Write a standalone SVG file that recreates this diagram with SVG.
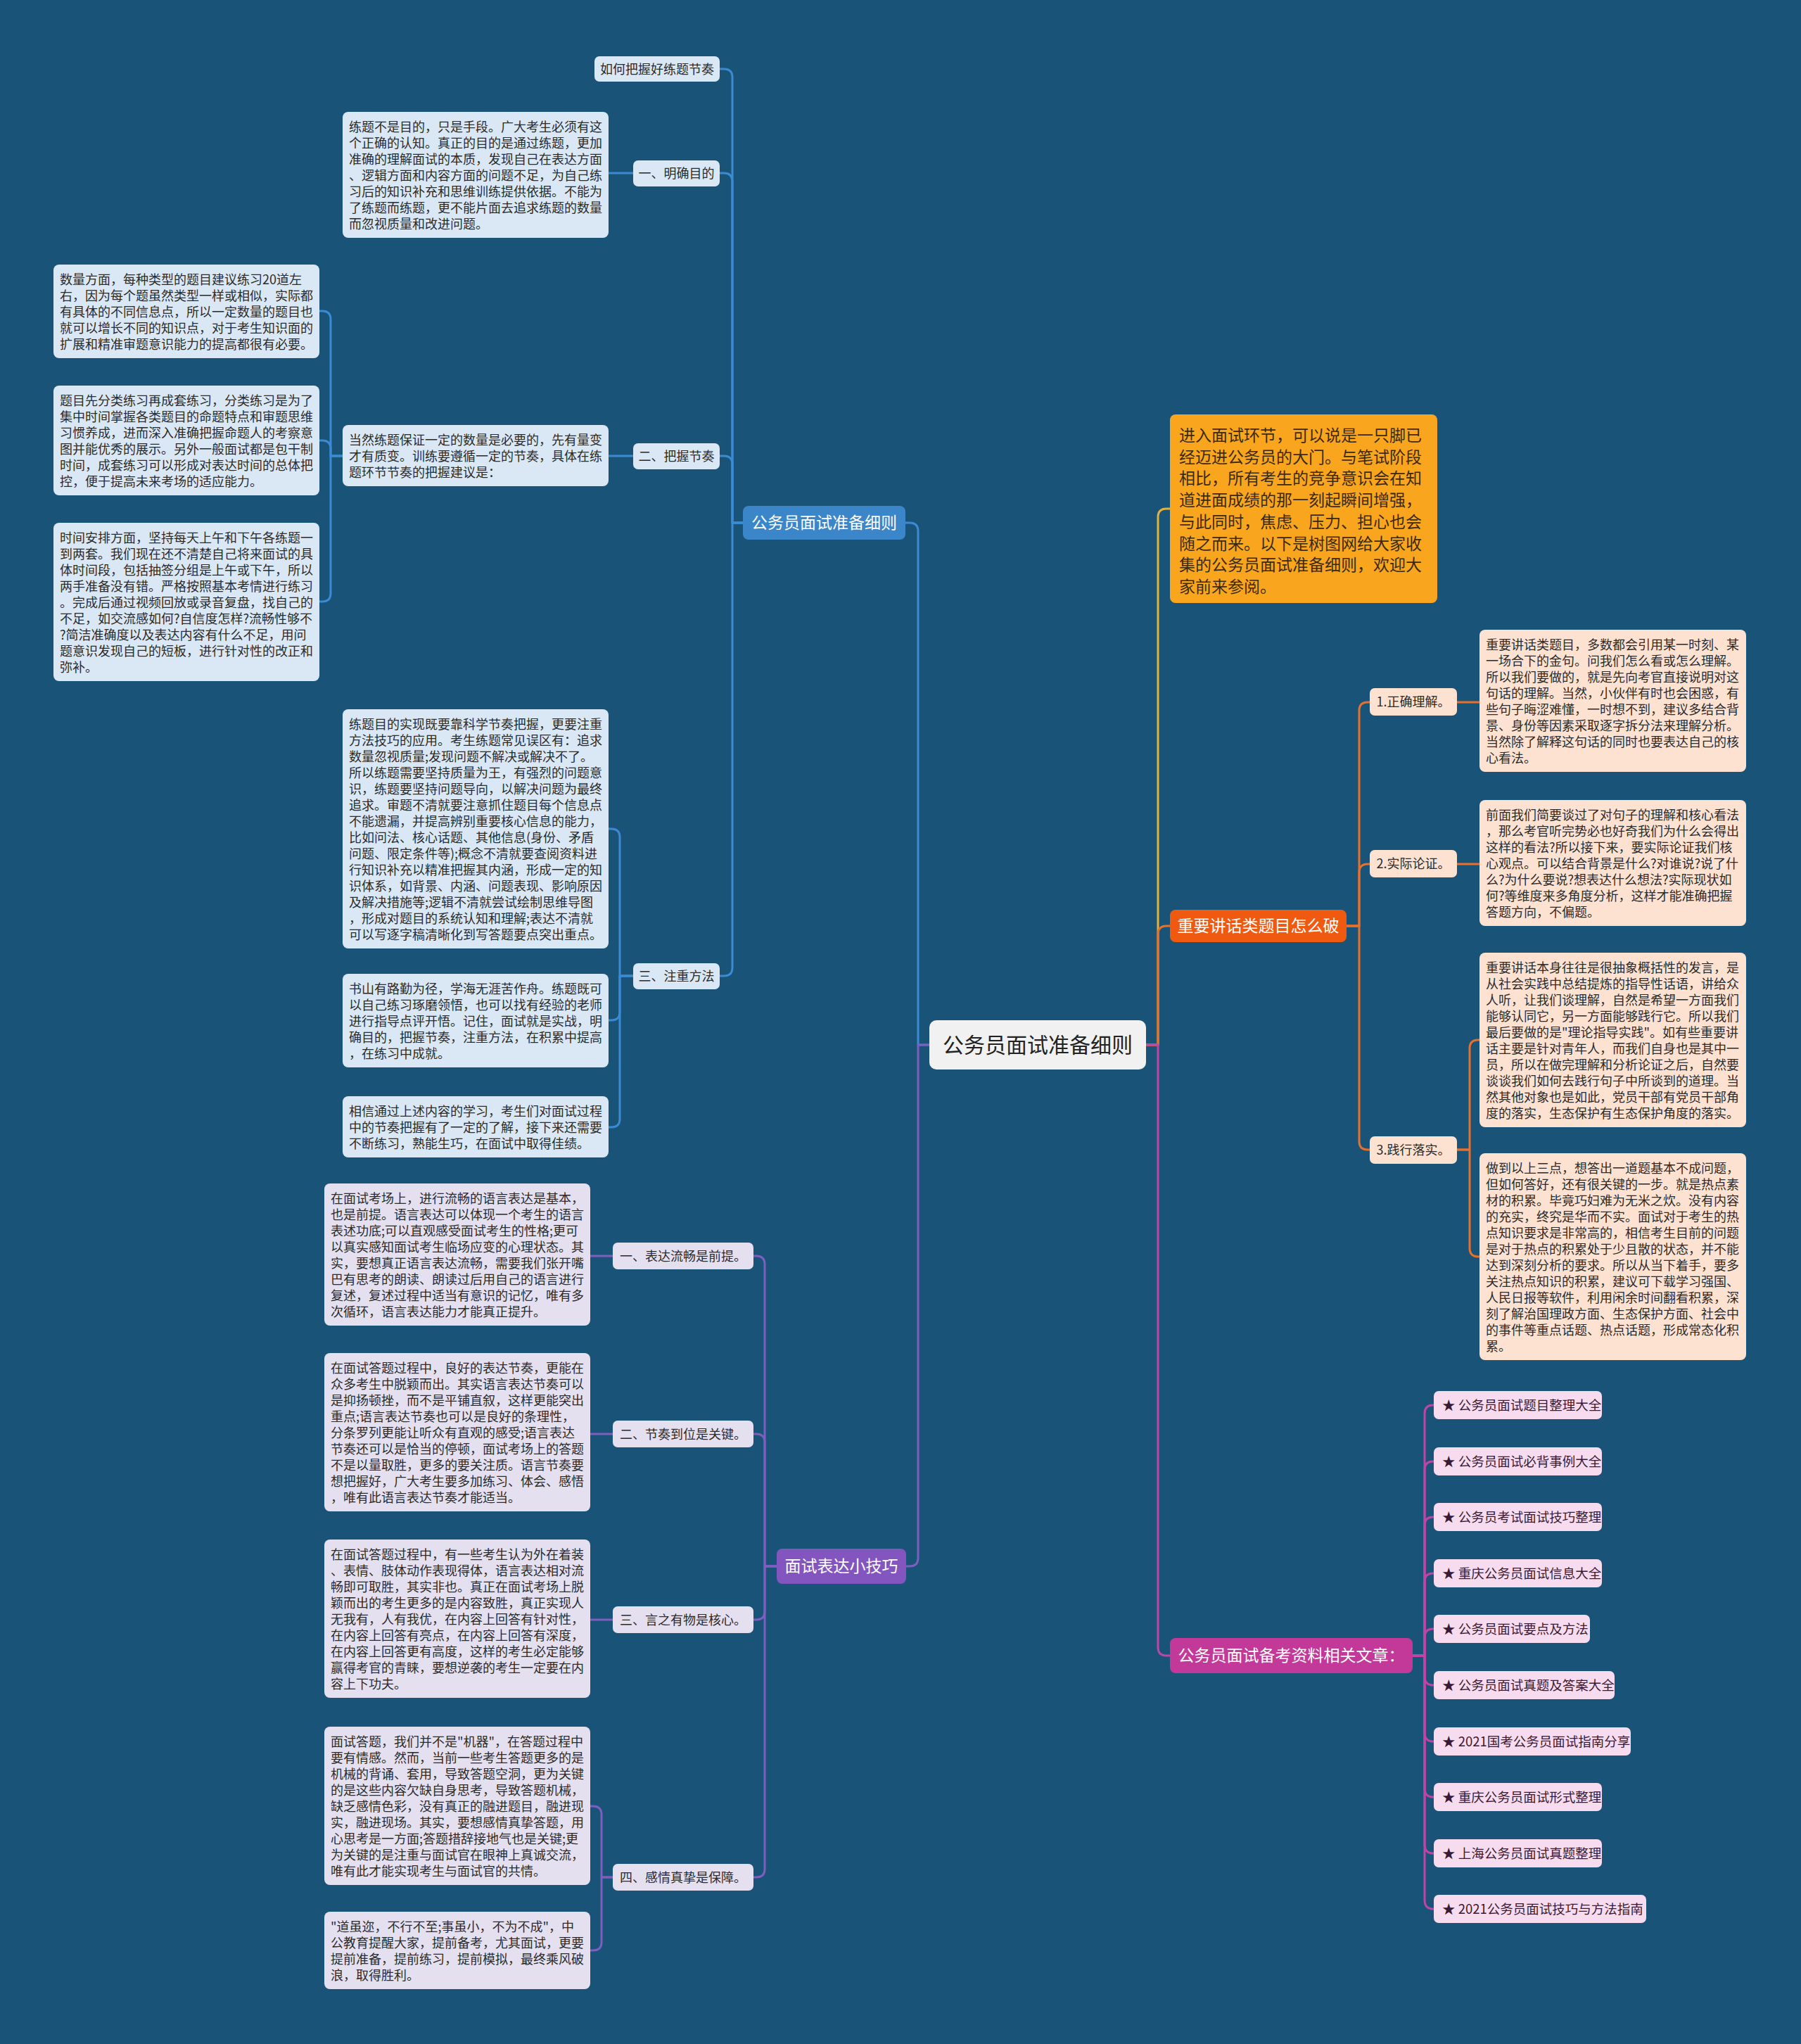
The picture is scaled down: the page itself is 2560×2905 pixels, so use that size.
<svg xmlns="http://www.w3.org/2000/svg" width="2560" height="2905" viewBox="0 0 2560 2905">
<style>
text{font-family:'Noto Sans CJK SC','Noto Sans CJK JP',sans-serif}
.tx{font-size:18px;fill:#2b2b2b}
.lbl{font-size:18px;fill:#2b2b2b;text-anchor:middle}
.art{font-size:18.5px;fill:#3a1a33}
.main{font-size:23px;fill:#ffffff;text-anchor:middle}
.lb{fill:#dae8f5}
.lp{fill:#e5e0f0}
.lo{fill:#fde2d2}
.lm{fill:#f7dcef}
#connectors path{fill:none;stroke-width:3;stroke-linejoin:round}
.cb{stroke:#3b8bd4}
.cp{stroke:#7e5fc0}
.cg{stroke:#e2b23e}
.co{stroke:#e8702a}
.cm{stroke:#c044a4}
</style>
<rect x="0" y="0" width="2560" height="2905" fill="#1a5378"/>

<g id="connectors">
  <!-- from center -->
  <path class="cb" d="M1321 1485 H1305 V755 Q1305 743 1293 743 H1287"/>
  <path class="cp" d="M1321 1485 H1305 V2214 Q1305 2226 1293 2226 H1288"/>
  <path class="cg" d="M1629 1485 H1646 V735 Q1646 723 1658 723 H1663"/>
  <path class="co" d="M1629 1485 H1646 V1328 Q1646 1316 1658 1316 H1663"/>
  <path class="cm" d="M1629 1485 H1646 V2341 Q1646 2353 1658 2353 H1663"/>
  <!-- blue branch -->
  <path class="cb" d="M1056 743 H1041 V110 Q1041 98 1029 98 H1023"/>
  <path class="cb" d="M1056 743 H1041 V258 Q1041 246 1029 246 H1023"/>
  <path class="cb" d="M1056 743 H1041 V660 Q1041 648 1029 648 H1023"/>
  <path class="cb" d="M1056 743 H1041 V1375 Q1041 1387 1029 1387 H1023"/>
  <path class="cb" d="M900 246 H865"/>
  <path class="cb" d="M900 648 H865"/>
  <path class="cb" d="M487 648 H470 V454 Q470 442 458 442 H454"/>
  <path class="cb" d="M487 648 H470 V638 Q470 626 458 626 H454"/>
  <path class="cb" d="M487 648 H470 V843 Q470 855 458 855 H454"/>
  <path class="cb" d="M900 1387 H881 V1190 Q881 1178 869 1178 H865"/>
  <path class="cb" d="M900 1387 H881 V1438 Q881 1450 869 1450 H865"/>
  <path class="cb" d="M900 1387 H881 V1590 Q881 1602 869 1602 H865"/>
  <!-- purple branch -->
  <path class="cp" d="M1104 2226 H1087 V1797 Q1087 1785 1075 1785 H1071"/>
  <path class="cp" d="M1104 2226 H1087 V2050 Q1087 2038 1075 2038 H1071"/>
  <path class="cp" d="M1104 2226 H1087 V2290 Q1087 2302 1075 2302 H1071"/>
  <path class="cp" d="M1104 2226 H1087 V2656 Q1087 2668 1075 2668 H1071"/>
  <path class="cp" d="M871 1785 H839"/>
  <path class="cp" d="M871 2038 H839"/>
  <path class="cp" d="M871 2302 H839"/>
  <path class="cp" d="M871 2668 H855 V2579 Q855 2567 843 2567 H839"/>
  <path class="cp" d="M871 2668 H855 V2760 Q855 2772 843 2772 H839"/>
  <!-- orange branch -->
  <path class="co" d="M1914 1316 H1932 V1010 Q1932 998 1944 998 H1947"/>
  <path class="co" d="M1914 1316 H1932 V1240 Q1932 1228 1944 1228 H1947"/>
  <path class="co" d="M1914 1316 H1932 V1622 Q1932 1634 1944 1634 H1947"/>
  <path class="co" d="M2071 998 H2103"/>
  <path class="co" d="M2071 1228 H2103"/>
  <path class="co" d="M2071 1634 H2089 V1490 Q2089 1478 2101 1478 H2103"/>
  <path class="co" d="M2071 1634 H2089 V1774 Q2089 1786 2101 1786 H2103"/>
  <!-- magenta branch -->
  <path class="cm" d="M2008 2353 H2025 V2009 Q2025 1997 2037 1997 H2038"/>
  <path class="cm" d="M2008 2353 H2025 V2089 Q2025 2077 2037 2077 H2038"/>
  <path class="cm" d="M2008 2353 H2025 V2168 Q2025 2156 2037 2156 H2038"/>
  <path class="cm" d="M2008 2353 H2025 V2248 Q2025 2236 2037 2236 H2038"/>
  <path class="cm" d="M2008 2353 H2025 V2327 Q2025 2315 2037 2315 H2038"/>
  <path class="cm" d="M2008 2353 H2025 V2383 Q2025 2395 2037 2395 H2038"/>
  <path class="cm" d="M2008 2353 H2025 V2463 Q2025 2475 2037 2475 H2038"/>
  <path class="cm" d="M2008 2353 H2025 V2542 Q2025 2554 2037 2554 H2038"/>
  <path class="cm" d="M2008 2353 H2025 V2622 Q2025 2634 2037 2634 H2038"/>
  <path class="cm" d="M2008 2353 H2025 V2701 Q2025 2713 2037 2713 H2038"/>
</g>

<g id="center">
  <rect x="1321" y="1450" width="308" height="70" rx="10" fill="#f1f1f1"/>
  <text x="1475" y="1496" font-size="30" fill="#222" text-anchor="middle">公务员面试准备细则</text>
</g>

<!-- Blue branch -->
<g id="n-prep">
  <rect x="1056" y="719" width="231" height="48" rx="8" fill="#3b86c9"/>
  <text class="main" x="1171.5" y="751">公务员面试准备细则</text>
</g>
<g id="n-howto">
  <rect class="lb" x="845" y="80" width="178" height="36" rx="7"/>
  <text class="lbl" x="934" y="104.5">如何把握好练题节奏</text>
</g>
<g id="n-goal">
  <rect class="lb" x="900" y="228" width="123" height="37" rx="7"/>
  <text class="lbl" x="961.5" y="253">一、明确目的</text>
</g>
<g id="n-goal-text">
  <rect class="lb" x="487" y="159" width="378" height="179" rx="8"/>
  <text class="tx" x="496" y="187"><tspan x="496">练题不是目的，只是手段。广大考生必须有这</tspan><tspan x="496" dy="23">个正确的认知。真正的目的是通过练题，更加</tspan><tspan x="496" dy="23">准确的理解面试的本质，发现自己在表达方面</tspan><tspan x="496" dy="23">、逻辑方面和内容方面的问题不足，为自己练</tspan><tspan x="496" dy="23">习后的知识补充和思维训练提供依据。不能为</tspan><tspan x="496" dy="23">了练题而练题，更不能片面去追求练题的数量</tspan><tspan x="496" dy="23">而忽视质量和改进问题。</tspan></text>
</g>
<g id="n-rhythm">
  <rect class="lb" x="900" y="630" width="123" height="37" rx="7"/>
  <text class="lbl" x="961.5" y="655">二、把握节奏</text>
</g>
<g id="n-rhythm-text">
  <rect class="lb" x="487" y="604" width="378" height="87" rx="8"/>
  <text class="tx" x="496" y="632"><tspan x="496">当然练题保证一定的数量是必要的，先有量变</tspan><tspan x="496" dy="23">才有质变。训练要遵循一定的节奏，具体在练</tspan><tspan x="496" dy="23">题环节节奏的把握建议是：</tspan></text>
</g>
<g id="n-quantity">
  <rect class="lb" x="76" y="376" width="378" height="133" rx="8"/>
  <text class="tx" x="85" y="404"><tspan x="85">数量方面，每种类型的题目建议练习20道左</tspan><tspan x="85" dy="23">右，因为每个题虽然类型一样或相似，实际都</tspan><tspan x="85" dy="23">有具体的不同信息点，所以一定数量的题目也</tspan><tspan x="85" dy="23">就可以增长不同的知识点，对于考生知识面的</tspan><tspan x="85" dy="23">扩展和精准审题意识能力的提高都很有必要。</tspan></text>
</g>
<g id="n-classify">
  <rect class="lb" x="76" y="548" width="378" height="156" rx="8"/>
  <text class="tx" x="85" y="576"><tspan x="85">题目先分类练习再成套练习，分类练习是为了</tspan><tspan x="85" dy="23">集中时间掌握各类题目的命题特点和审题思维</tspan><tspan x="85" dy="23">习惯养成，进而深入准确把握命题人的考察意</tspan><tspan x="85" dy="23">图并能优秀的展示。另外一般面试都是包干制</tspan><tspan x="85" dy="23">时间，成套练习可以形成对表达时间的总体把</tspan><tspan x="85" dy="23">控，便于提高未来考场的适应能力。</tspan></text>
</g>
<g id="n-time">
  <rect class="lb" x="76" y="743" width="378" height="225" rx="8"/>
  <text class="tx" x="85" y="771"><tspan x="85">时间安排方面，坚持每天上午和下午各练题一</tspan><tspan x="85" dy="23">到两套。我们现在还不清楚自己将来面试的具</tspan><tspan x="85" dy="23">体时间段，包括抽签分组是上午或下午，所以</tspan><tspan x="85" dy="23">两手准备没有错。严格按照基本考情进行练习</tspan><tspan x="85" dy="23">。完成后通过视频回放或录音复盘，找自己的</tspan><tspan x="85" dy="23">不足，如交流感如何?自信度怎样?流畅性够不</tspan><tspan x="85" dy="23">?简洁准确度以及表达内容有什么不足，用问</tspan><tspan x="85" dy="23">题意识发现自己的短板，进行针对性的改正和</tspan><tspan x="85" dy="23">弥补。</tspan></text>
</g>
<g id="n-method">
  <rect class="lb" x="900" y="1369" width="123" height="37" rx="7"/>
  <text class="lbl" x="961.5" y="1394">三、注重方法</text>
</g>
<g id="n-method-text1">
  <rect class="lb" x="487" y="1008" width="378" height="340" rx="8"/>
  <text class="tx" x="496" y="1036"><tspan x="496">练题目的实现既要靠科学节奏把握，更要注重</tspan><tspan x="496" dy="23">方法技巧的应用。考生练题常见误区有：追求</tspan><tspan x="496" dy="23">数量忽视质量;发现问题不解决或解决不了。</tspan><tspan x="496" dy="23">所以练题需要坚持质量为王，有强烈的问题意</tspan><tspan x="496" dy="23">识，练题要坚持问题导向，以解决问题为最终</tspan><tspan x="496" dy="23">追求。审题不清就要注意抓住题目每个信息点</tspan><tspan x="496" dy="23">不能遗漏，并提高辨别重要核心信息的能力，</tspan><tspan x="496" dy="23">比如问法、核心话题、其他信息(身份、矛盾</tspan><tspan x="496" dy="23">问题、限定条件等);概念不清就要查阅资料进</tspan><tspan x="496" dy="23">行知识补充以精准把握其内涵，形成一定的知</tspan><tspan x="496" dy="23">识体系，如背景、内涵、问题表现、影响原因</tspan><tspan x="496" dy="23">及解决措施等;逻辑不清就尝试绘制思维导图</tspan><tspan x="496" dy="23">，形成对题目的系统认知和理解;表达不清就</tspan><tspan x="496" dy="23">可以写逐字稿清晰化到写答题要点突出重点。</tspan></text>
</g>
<g id="n-method-text2">
  <rect class="lb" x="487" y="1384" width="378" height="133" rx="8"/>
  <text class="tx" x="496" y="1412"><tspan x="496">书山有路勤为径，学海无涯苦作舟。练题既可</tspan><tspan x="496" dy="23">以自己练习琢磨领悟，也可以找有经验的老师</tspan><tspan x="496" dy="23">进行指导点评开悟。记住，面试就是实战，明</tspan><tspan x="496" dy="23">确目的，把握节奏，注重方法，在积累中提高</tspan><tspan x="496" dy="23">，在练习中成就。</tspan></text>
</g>
<g id="n-method-text3">
  <rect class="lb" x="487" y="1558" width="378" height="87" rx="8"/>
  <text class="tx" x="496" y="1586"><tspan x="496">相信通过上述内容的学习，考生们对面试过程</tspan><tspan x="496" dy="23">中的节奏把握有了一定的了解，接下来还需要</tspan><tspan x="496" dy="23">不断练习，熟能生巧，在面试中取得佳绩。</tspan></text>
</g>

<!-- Purple branch -->
<g id="n-skills">
  <rect x="1104" y="2201" width="184" height="50" rx="8" fill="#8355bf"/>
  <text class="main" x="1196" y="2234">面试表达小技巧</text>
</g>
<g id="n-s1">
  <rect class="lp" x="871" y="1766" width="200" height="38" rx="7"/>
  <text class="lbl" x="971" y="1791.5">一、表达流畅是前提。</text>
</g>
<g id="n-s1-text">
  <rect class="lp" x="461" y="1682" width="378" height="202" rx="8"/>
  <text class="tx" x="470" y="1710"><tspan x="470">在面试考场上，进行流畅的语言表达是基本，</tspan><tspan x="470" dy="23">也是前提。语言表达可以体现一个考生的语言</tspan><tspan x="470" dy="23">表述功底;可以直观感受面试考生的性格;更可</tspan><tspan x="470" dy="23">以真实感知面试考生临场应变的心理状态。其</tspan><tspan x="470" dy="23">实，要想真正语言表达流畅，需要我们张开嘴</tspan><tspan x="470" dy="23">巴有思考的朗读、朗读过后用自己的语言进行</tspan><tspan x="470" dy="23">复述，复述过程中适当有意识的记忆，唯有多</tspan><tspan x="470" dy="23">次循环，语言表达能力才能真正提升。</tspan></text>
</g>
<g id="n-s2">
  <rect class="lp" x="871" y="2019" width="200" height="38" rx="7"/>
  <text class="lbl" x="971" y="2044.5">二、节奏到位是关键。</text>
</g>
<g id="n-s2-text">
  <rect class="lp" x="461" y="1923" width="378" height="225" rx="8"/>
  <text class="tx" x="470" y="1951"><tspan x="470">在面试答题过程中，良好的表达节奏，更能在</tspan><tspan x="470" dy="23">众多考生中脱颖而出。其实语言表达节奏可以</tspan><tspan x="470" dy="23">是抑扬顿挫，而不是平铺直叙，这样更能突出</tspan><tspan x="470" dy="23">重点;语言表达节奏也可以是良好的条理性，</tspan><tspan x="470" dy="23">分条罗列更能让听众有直观的感受;语言表达</tspan><tspan x="470" dy="23">节奏还可以是恰当的停顿，面试考场上的答题</tspan><tspan x="470" dy="23">不是以量取胜，更多的要关注质。语言节奏要</tspan><tspan x="470" dy="23">想把握好，广大考生要多加练习、体会、感悟</tspan><tspan x="470" dy="23">，唯有此语言表达节奏才能适当。</tspan></text>
</g>
<g id="n-s3">
  <rect class="lp" x="871" y="2283" width="200" height="38" rx="7"/>
  <text class="lbl" x="971" y="2308.5">三、言之有物是核心。</text>
</g>
<g id="n-s3-text">
  <rect class="lp" x="461" y="2188" width="378" height="225" rx="8"/>
  <text class="tx" x="470" y="2216"><tspan x="470">在面试答题过程中，有一些考生认为外在着装</tspan><tspan x="470" dy="23">、表情、肢体动作表现得体，语言表达相对流</tspan><tspan x="470" dy="23">畅即可取胜，其实非也。真正在面试考场上脱</tspan><tspan x="470" dy="23">颖而出的考生更多的是内容致胜，真正实现人</tspan><tspan x="470" dy="23">无我有，人有我优，在内容上回答有针对性，</tspan><tspan x="470" dy="23">在内容上回答有亮点，在内容上回答有深度，</tspan><tspan x="470" dy="23">在内容上回答更有高度，这样的考生必定能够</tspan><tspan x="470" dy="23">赢得考官的青睐，要想逆袭的考生一定要在内</tspan><tspan x="470" dy="23">容上下功夫。</tspan></text>
</g>
<g id="n-s4">
  <rect class="lp" x="871" y="2649" width="200" height="38" rx="7"/>
  <text class="lbl" x="971" y="2674.5">四、感情真挚是保障。</text>
</g>
<g id="n-s4-text1">
  <rect class="lp" x="461" y="2454" width="378" height="225" rx="8"/>
  <text class="tx" x="470" y="2482"><tspan x="470">面试答题，我们并不是"机器"，在答题过程中</tspan><tspan x="470" dy="23">要有情感。然而，当前一些考生答题更多的是</tspan><tspan x="470" dy="23">机械的背诵、套用，导致答题空洞，更为关键</tspan><tspan x="470" dy="23">的是这些内容欠缺自身思考，导致答题机械，</tspan><tspan x="470" dy="23">缺乏感情色彩，没有真正的融进题目，融进现</tspan><tspan x="470" dy="23">实，融进现场。其实，要想感情真挚答题，用</tspan><tspan x="470" dy="23">心思考是一方面;答题措辞接地气也是关键;更</tspan><tspan x="470" dy="23">为关键的是注重与面试官在眼神上真诚交流，</tspan><tspan x="470" dy="23">唯有此才能实现考生与面试官的共情。</tspan></text>
</g>
<g id="n-s4-text2">
  <rect class="lp" x="461" y="2717" width="378" height="110" rx="8"/>
  <text class="tx" x="470" y="2745"><tspan x="470">"道虽迩，不行不至;事虽小，不为不成"，中</tspan><tspan x="470" dy="23">公教育提醒大家，提前备考，尤其面试，更要</tspan><tspan x="470" dy="23">提前准备，提前练习，提前模拟，最终乘风破</tspan><tspan x="470" dy="23">浪，取得胜利。</tspan></text>
</g>

<!-- Right: intro -->
<g id="n-intro">
  <rect x="1663" y="589" width="380" height="268" rx="8" fill="#f9a61e"/>
  <text x="1676" y="627" font-size="23" fill="#3b2a12"><tspan x="1676">进入面试环节，可以说是一只脚已</tspan><tspan x="1676" dy="30.7">经迈进公务员的大门。与笔试阶段</tspan><tspan x="1676" dy="30.7">相比，所有考生的竞争意识会在知</tspan><tspan x="1676" dy="30.7">道进面成绩的那一刻起瞬间增强，</tspan><tspan x="1676" dy="30.7">与此同时，焦虑、压力、担心也会</tspan><tspan x="1676" dy="30.7">随之而来。以下是树图网给大家收</tspan><tspan x="1676" dy="30.7">集的公务员面试准备细则，欢迎大</tspan><tspan x="1676" dy="30.7">家前来参阅。</tspan></text>
</g>

<!-- Right: orange branch -->
<g id="n-speech">
  <rect x="1663" y="1293" width="251" height="46" rx="8" fill="#ef5a10"/>
  <text class="main" x="1788.5" y="1324">重要讲话类题目怎么破</text>
</g>
<g id="n-r1">
  <rect class="lo" x="1947" y="978" width="124" height="39" rx="7"/>
  <text class="lbl" x="2009" y="1004">1.正确理解。</text>
</g>
<g id="n-r1-text">
  <rect class="lo" x="2103" y="895" width="379" height="202" rx="8"/>
  <text class="tx" x="2112" y="923"><tspan x="2112">重要讲话类题目，多数都会引用某一时刻、某</tspan><tspan x="2112" dy="23">一场合下的金句。问我们怎么看或怎么理解。</tspan><tspan x="2112" dy="23">所以我们要做的，就是先向考官直接说明对这</tspan><tspan x="2112" dy="23">句话的理解。当然，小伙伴有时也会困惑，有</tspan><tspan x="2112" dy="23">些句子晦涩难懂，一时想不到，建议多结合背</tspan><tspan x="2112" dy="23">景、身份等因素采取逐字拆分法来理解分析。</tspan><tspan x="2112" dy="23">当然除了解释这句话的同时也要表达自己的核</tspan><tspan x="2112" dy="23">心看法。</tspan></text>
</g>
<g id="n-r2">
  <rect class="lo" x="1947" y="1208" width="124" height="39" rx="7"/>
  <text class="lbl" x="2009" y="1234">2.实际论证。</text>
</g>
<g id="n-r2-text">
  <rect class="lo" x="2103" y="1137" width="379" height="179" rx="8"/>
  <text class="tx" x="2112" y="1165"><tspan x="2112">前面我们简要谈过了对句子的理解和核心看法</tspan><tspan x="2112" dy="23">，那么考官听完势必也好奇我们为什么会得出</tspan><tspan x="2112" dy="23">这样的看法?所以接下来，要实际论证我们核</tspan><tspan x="2112" dy="23">心观点。可以结合背景是什么?对谁说?说了什</tspan><tspan x="2112" dy="23">么?为什么要说?想表达什么想法?实际现状如</tspan><tspan x="2112" dy="23">何?等维度来多角度分析，这样才能准确把握</tspan><tspan x="2112" dy="23">答题方向，不偏题。</tspan></text>
</g>
<g id="n-r3">
  <rect class="lo" x="1947" y="1615" width="124" height="39" rx="7"/>
  <text class="lbl" x="2009" y="1641">3.践行落实。</text>
</g>
<g id="n-r3-text1">
  <rect class="lo" x="2103" y="1354" width="379" height="248" rx="8"/>
  <text class="tx" x="2112" y="1382"><tspan x="2112">重要讲话本身往往是很抽象概括性的发言，是</tspan><tspan x="2112" dy="23">从社会实践中总结提炼的指导性话语，讲给众</tspan><tspan x="2112" dy="23">人听，让我们谈理解，自然是希望一方面我们</tspan><tspan x="2112" dy="23">能够认同它，另一方面能够践行它。所以我们</tspan><tspan x="2112" dy="23">最后要做的是"理论指导实践"。如有些重要讲</tspan><tspan x="2112" dy="23">话主要是针对青年人，而我们自身也是其中一</tspan><tspan x="2112" dy="23">员，所以在做完理解和分析论证之后，自然要</tspan><tspan x="2112" dy="23">谈谈我们如何去践行句子中所谈到的道理。当</tspan><tspan x="2112" dy="23">然其他对象也是如此，党员干部有党员干部角</tspan><tspan x="2112" dy="23">度的落实，生态保护有生态保护角度的落实。</tspan></text>
</g>
<g id="n-r3-text2">
  <rect class="lo" x="2103" y="1639" width="379" height="294" rx="8"/>
  <text class="tx" x="2112" y="1667"><tspan x="2112">做到以上三点，想答出一道题基本不成问题，</tspan><tspan x="2112" dy="23">但如何答好，还有很关键的一步。就是热点素</tspan><tspan x="2112" dy="23">材的积累。毕竟巧妇难为无米之炊。没有内容</tspan><tspan x="2112" dy="23">的充实，终究是华而不实。面试对于考生的热</tspan><tspan x="2112" dy="23">点知识要求是非常高的，相信考生目前的问题</tspan><tspan x="2112" dy="23">是对于热点的积累处于少且散的状态，并不能</tspan><tspan x="2112" dy="23">达到深刻分析的要求。所以从当下着手，要多</tspan><tspan x="2112" dy="23">关注热点知识的积累，建议可下载学习强国、</tspan><tspan x="2112" dy="23">人民日报等软件，利用闲余时间翻看积累，深</tspan><tspan x="2112" dy="23">刻了解治国理政方面、生态保护方面、社会中</tspan><tspan x="2112" dy="23">的事件等重点话题、热点话题，形成常态化积</tspan><tspan x="2112" dy="23">累。</tspan></text>
</g>

<!-- Right: magenta branch -->
<g id="n-articles">
  <rect x="1663" y="2328" width="345" height="50" rx="8" fill="#c2399a"/>
  <text class="main" x="1835.5" y="2361">公务员面试备考资料相关文章：</text>
</g>
<g id="a1"><rect class="lm" x="2038" y="1977" width="239" height="40" rx="7"/><text class="art" x="2050" y="2003.5">★ 公务员面试题目整理大全</text></g>
<g id="a2"><rect class="lm" x="2038" y="2057" width="239" height="40" rx="7"/><text class="art" x="2050" y="2083.5">★ 公务员面试必背事例大全</text></g>
<g id="a3"><rect class="lm" x="2038" y="2136" width="239" height="40" rx="7"/><text class="art" x="2050" y="2162.5">★ 公务员考试面试技巧整理</text></g>
<g id="a4"><rect class="lm" x="2038" y="2216" width="239" height="40" rx="7"/><text class="art" x="2050" y="2242.5">★ 重庆公务员面试信息大全</text></g>
<g id="a5"><rect class="lm" x="2038" y="2295" width="222" height="40" rx="7"/><text class="art" x="2050" y="2321.5">★ 公务员面试要点及方法</text></g>
<g id="a6"><rect class="lm" x="2038" y="2375" width="257" height="40" rx="7"/><text class="art" x="2050" y="2401.5">★ 公务员面试真题及答案大全</text></g>
<g id="a7"><rect class="lm" x="2038" y="2455" width="280" height="40" rx="7"/><text class="art" x="2050" y="2481.5">★ 2021国考公务员面试指南分享</text></g>
<g id="a8"><rect class="lm" x="2038" y="2534" width="239" height="40" rx="7"/><text class="art" x="2050" y="2560.5">★ 重庆公务员面试形式整理</text></g>
<g id="a9"><rect class="lm" x="2038" y="2614" width="239" height="40" rx="7"/><text class="art" x="2050" y="2640.5">★ 上海公务员面试真题整理</text></g>
<g id="a10"><rect class="lm" x="2038" y="2693" width="302" height="40" rx="7"/><text class="art" x="2050" y="2719.5">★ 2021公务员面试技巧与方法指南</text></g>
</svg>
